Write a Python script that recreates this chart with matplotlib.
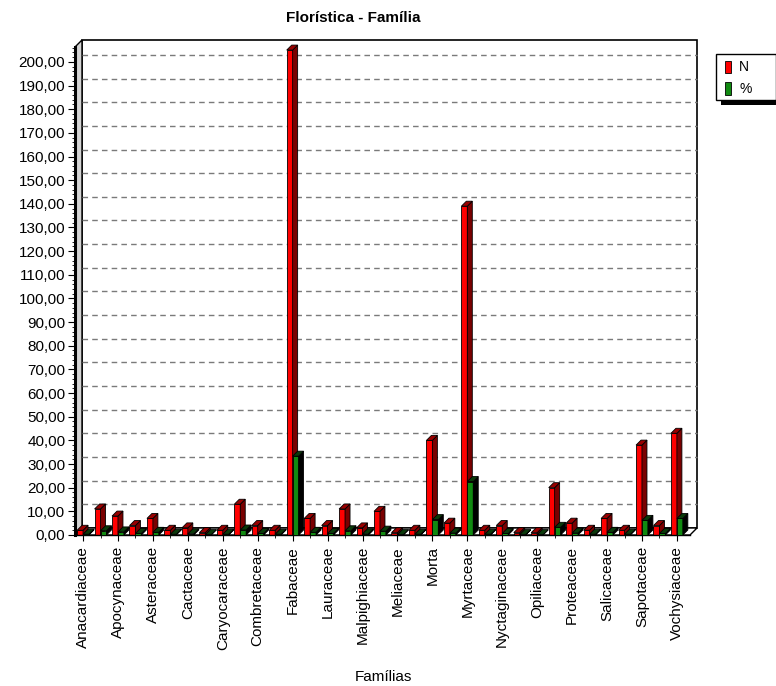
import matplotlib
matplotlib.use("Agg")
import matplotlib.pyplot as plt
from matplotlib.patches import Polygon, Rectangle
from matplotlib.transforms import IdentityTransform
from matplotlib.ticker import FuncFormatter, MultipleLocator

# Famílias (só uma sim, outra não aparece no eixo)
familias = ["Anacardiaceae", "Annonaceae", "Apocynaceae", "Araliaceae", "Asteraceae",
            "Bignoniaceae", "Cactaceae", "Calophyllaceae", "Caryocaraceae", "Chrysobalanaceae",
            "Combretaceae", "Ebenaceae", "Fabaceae", "Lamiaceae", "Lauraceae",
            "Lythraceae", "Malpighiaceae", "Malvaceae", "Meliaceae", "Moraceae",
            "Morta", "Myrsinaceae", "Myrtaceae", "Nyctaginaceae", "Nyctaginaceae ",
            "Ochnaceae", "Opiliaceae", "Peraceae", "Proteaceae", "Rubiaceae",
            "Salicaceae", "Sapindaceae", "Sapotaceae", "Simaroubaceae", "Vochysiaceae"]
familias[23], familias[24] = "Myristicaceae", "Nyctaginaceae"

n_vals = [2, 11, 8, 4, 7, 2, 3, 1, 2, 13,
          4, 2, 205, 7, 4, 11, 3, 10, 1, 2,
          40, 5, 139, 2, 4, 1, 1, 20, 5, 2,
          7, 2, 38, 4, 43]
pct_vals = [0.33, 1.79, 1.30, 0.65, 1.14, 0.33, 0.49, 0.16, 0.33, 2.11,
            0.65, 0.33, 33.33, 1.14, 0.65, 1.79, 0.49, 1.63, 0.16, 0.33,
            6.50, 0.81, 22.60, 0.33, 0.65, 0.16, 0.16, 3.25, 0.81, 0.33,
            1.14, 0.33, 6.18, 0.65, 6.99]

W, H = 776, 686
fig = plt.figure(figsize=(W / 100, H / 100), dpi=100)
fig.patch.set_facecolor("white")
plt.rcParams["font.family"] = ["Liberation Sans", "DejaVu Sans"]

# eixo frontal (em pixels da imagem: esquerda 75, direita 690, base 535, topo 47)
ax = fig.add_axes([75 / W, (H - 535) / H, (690 - 75) / W, (535 - 47) / H])
ax.patch.set_visible(False)
ax.set_xlim(-0.46, 34.75)
ax.set_ylim(0, 206.3)

D = 7   # profundidade das paredes (px)
d = 5   # profundidade das barras (px)
idt = IdentityTransform()


def px(x, y):
    return ax.transData.transform((x, y))


# paredes
x0, x1 = ax.get_xlim()
y0, y1 = ax.get_ylim()
fl_b, fr_b = px(x0, y0), px(x1, y0)
fl_t = px(x0, y1)
ax.add_patch(Rectangle((fl_b[0] + D, fl_b[1] + D), fr_b[0] - fl_b[0], fl_t[1] - fl_b[1],
                       transform=idt, facecolor="white", edgecolor="black", lw=1.2,
                       zorder=0, clip_on=False))
ax.add_patch(Polygon([fl_b, fl_t, (fl_t[0] + D, fl_t[1] + D), (fl_b[0] + D, fl_b[1] + D)],
                     closed=True, transform=idt, facecolor="#d4d4d4", edgecolor="black",
                     lw=1, zorder=0.5, clip_on=False))
ax.add_patch(Polygon([fl_b, fr_b, (fr_b[0] + D, fr_b[1] + D), (fl_b[0] + D, fl_b[1] + D)],
                     closed=True, transform=idt, facecolor="white", edgecolor="black",
                     lw=1, zorder=0.5, clip_on=False))

# grade tracejada na parede do fundo
for v in range(10, 201, 10):
    a, b = px(x0, v), px(x1, v)
    ax.plot([a[0] + D, b[0] + D], [a[1] + D, b[1] + D], transform=idt, color="#7a7a7a",
            lw=1, ls=(0, (4, 3)), zorder=0.6, clip_on=False)

# barras 3D
bw = 0.34
pos = list(range(len(familias)))


def depth_faces(xl, h, side_c, top_c, z):
    (xa, ya), (xb, yb) = px(xl, 0), px(xl + bw, h)
    ax.add_patch(Polygon([(xb, ya), (xb + d, ya + d), (xb + d, yb + d), (xb, yb)],
                         transform=idt, facecolor=side_c, edgecolor="black", lw=0.6,
                         zorder=z, clip_on=False))
    ax.add_patch(Polygon([(xa, yb), (xb, yb), (xb + d, yb + d), (xa + d, yb + d)],
                         transform=idt, facecolor=top_c, edgecolor="black", lw=0.6,
                         zorder=z, clip_on=False))


for i in pos:
    ax.bar(i - bw, n_vals[i], width=bw, align="edge", color="#ff0000",
           edgecolor="black", lw=0.6, zorder=2, clip_on=False)
    depth_faces(i - bw, n_vals[i], "#7a0000", "#990000", 2)
    ax.bar(i, pct_vals[i], width=bw, align="edge", color="#118a11",
           edgecolor="black", lw=0.6, zorder=3, clip_on=False)
    depth_faces(i, pct_vals[i], "#000000", "#0a3a0a", 3)

# eixos
for s in ["top", "right"]:
    ax.spines[s].set_visible(False)
ax.spines["left"].set_linewidth(2.2)
ax.spines["bottom"].set_linewidth(1)
ax.spines["left"].set_zorder(5)
ax.yaxis.set_major_locator(MultipleLocator(10))
ax.yaxis.set_minor_locator(MultipleLocator(2))
ax.yaxis.set_major_formatter(FuncFormatter(lambda v, p: f"{v:.2f}".replace(".", ",")))
ax.tick_params(axis="y", which="major", length=5, labelsize=11, pad=2)
ax.tick_params(axis="y", which="minor", length=2)
ax.set_xticks(pos[::2])
ax.set_xticklabels(familias[::2], rotation=90)
ax.set_xticks(pos, minor=True)
ax.tick_params(axis="x", which="major", length=4, labelsize=11, pad=4)
ax.tick_params(axis="x", which="minor", length=2)

fig.text(353 / W, 1 - 18 / H, "Florística - Família", ha="center", va="center",
         fontsize=11, fontweight="bold")
fig.text(383 / W, 1 - 677 / H, "Famílias", ha="center", va="center", fontsize=11)

# legenda com sombra
def img(x, y):
    return (x, H - y)

fig.add_artist(Rectangle(img(721, 105), 60, 46, transform=idt, facecolor="black", zorder=5))
fig.add_artist(Rectangle(img(716, 100), 60, 46, transform=idt, facecolor="white",
                         edgecolor="black", lw=1, zorder=6))
fig.add_artist(Rectangle(img(725, 73), 6, 12, transform=idt, facecolor="#ff0000",
                         edgecolor="black", lw=0.6, zorder=7))
fig.add_artist(Rectangle(img(725, 95), 6, 13, transform=idt, facecolor="#118a11",
                         edgecolor="black", lw=0.6, zorder=7))
fig.text(739 / W, 1 - 67 / H, "N", va="center", fontsize=10, zorder=8)
fig.text(739 / W, 1 - 89 / H, "%", va="center", fontsize=10, zorder=8)

fig.savefig("out.png", dpi=100)
